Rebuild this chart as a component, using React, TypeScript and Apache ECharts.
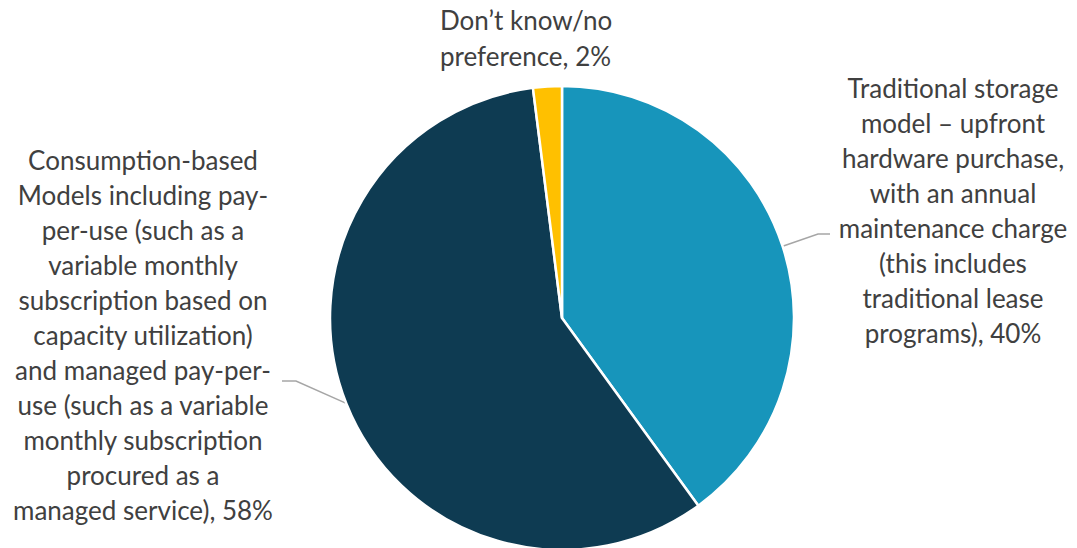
import React, { useEffect, useRef } from "react";
import * as echarts from "echarts";

const categories = [
  "Traditional storage\nmodel – upfront\nhardware purchase,\nwith an annual\nmaintenance charge\n(this includes\ntraditional lease\nprograms)",
  "Consumption-based\nModels including pay-\nper-use (such as a\nvariable monthly\nsubscription based on\ncapacity utilization)\nand managed pay-per-\nuse (such as a variable\nmonthly subscription\nprocured as a\nmanaged service)",
  "Don’t know/no\npreference",
];
const values = [40, 58, 2];
const colors = ["#1795BB", "#0E3B52", "#FFC000"];

export default function App() {
  const ref = useRef<HTMLDivElement>(null);
  useEffect(() => {
    if (!ref.current) return;
    const chart = echarts.init(ref.current, null, { renderer: "svg" });
    const labelPos = [
      { x: 953, y: 210, align: "center", elbow: [[818, 234], [830, 234]] },
      { x: 143, y: 335, align: "center", elbow: [[296, 381], [282, 381]] },
      { x: 440, y: 38, align: "left", elbow: null as any },
    ];
    chart.setOption({
      animation: false,
      backgroundColor: "#ffffff",
      series: [
        {
          type: "pie",
          center: [562, 318],
          radius: 232,
          startAngle: 90,
          clockwise: true,
          avoidLabelOverlap: false,
          itemStyle: { borderColor: "#ffffff", borderWidth: 2.5 },
          label: {
            show: true,
            formatter: (p: any) => p.name + ", " + p.value + "%",
            fontFamily: "Lato",
            fontSize: 26,
            lineHeight: 35,
            color: "#404040",
            align: "center",
          },
          labelLine: {
            show: true,
            length: 15,
            length2: 15,
            lineStyle: { color: "#A6A6A6", width: 1.5 },
          },
          labelLayout: (p: any) => {
            const l = labelPos[p.dataIndex];
            const out: any = { x: l.x, y: l.y, align: l.align, verticalAlign: "middle" };
            if (l.elbow && p.labelLinePoints && p.labelLinePoints[0]) {
              out.labelLinePoints = [p.labelLinePoints[0], l.elbow[0], l.elbow[1]];
            }
            return out;
          },
          data: categories.map((c, i) => ({
            name: c,
            value: values[i],
            itemStyle: { color: colors[i] },
            labelLine: { show: i !== 2 },
            label: i === 2 ? { align: "left", lineHeight: 36 } : undefined,
          })),
        },
      ],
    });
    return () => chart.dispose();
  }, []);
  return (
    <div
      ref={ref}
      style={{ position: "absolute", left: 0, top: 0, width: 1077, height: 548 }}
    />
  );
}
